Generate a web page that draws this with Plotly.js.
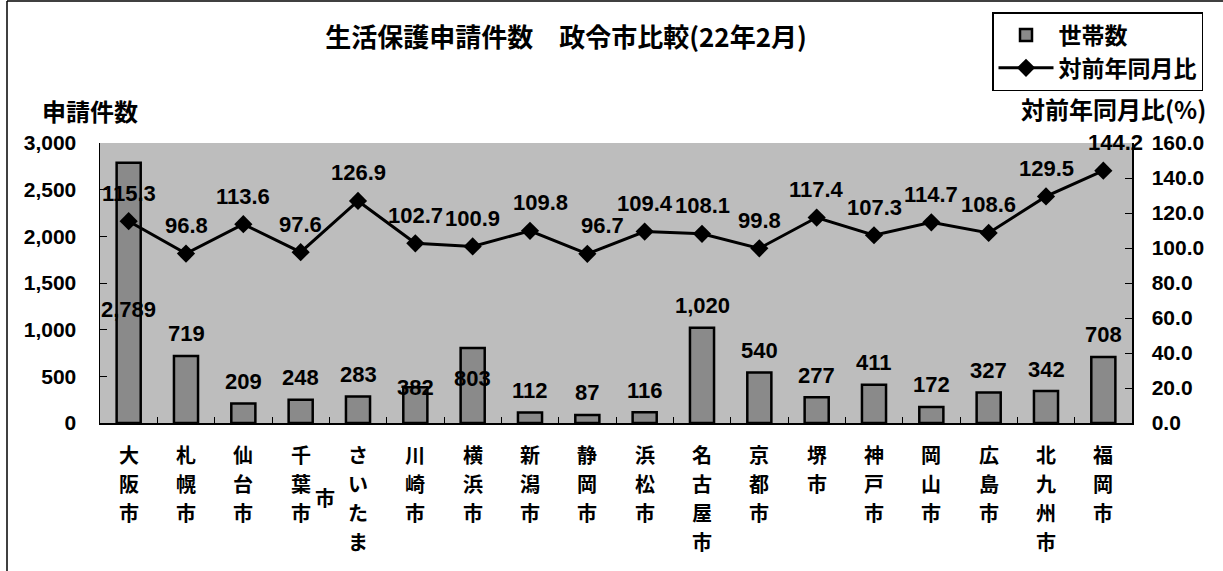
<!DOCTYPE html>
<html><head><meta charset="utf-8">
<script src="https://cdn.plot.ly/plotly-3.0.1.min.js"></script>
<style>html,body{margin:0;padding:0;background:#fff}#chart{width:1223px;height:571px}</style>
</head><body><div id="chart"></div>
<script>
// ---- data ----
const categories = ["大阪市","札幌市","仙台市","千葉市","さいたま市","川崎市","横浜市","新潟市","静岡市","浜松市","名古屋市","京都市","堺市","神戸市","岡山市","広島市","北九州市","福岡市"];
const households = [2789,719,209,248,283,382,803,112,87,116,1020,540,277,411,172,327,342,708];
const yoyRatio = [115.3,96.8,113.6,97.6,126.9,102.7,100.9,109.8,96.7,109.4,108.1,99.8,117.4,107.3,114.7,108.6,129.5,144.2];
const leftTicks = [0,500,1000,1500,2000,2500,3000];
const rightTicks = [0,20,40,60,80,100,120,140,160];
const chartTitle = "生活保護申請件数　政令市比較(22年2月)";
const leftTitle = "申請件数";
const rightTitle = "対前年同月比(%)";
const barName = "世帯数";
const lineName = "対前年同月比";

// ---- label placement tweaks (pixels) ----
const barLabelShift = {0: -147, 5: 0, 6: -30};
const lineLabelXShift = {7: 10, 8: 15, 17: 12};

const cjk = "Noto Sans CJK JP, sans-serif";
const num = "Liberation Sans, Arial, Noto Sans CJK JP, sans-serif";

const PL = 100, PT = 143, PW = 1032, PH = 280;   // plot area in px
const px2x = p => (p - PL) / PW;
const px2y = p => (PT + PH - p) / PH;

// vertical category labels, one char per row, columns of max 4 chars (extra columns go left)
const maxRows = 4, rowPitch = 29, firstRow = 31, colPitch = 33;
const annotations = [];
categories.forEach((c, i) => {
  const chars = c.split('');
  const nCols = Math.ceil(chars.length / maxRows);
  chars.forEach((ch, k) => {
    const col = Math.floor(k / maxRows);
    const row = k % maxRows;
    const inCol = Math.min(maxRows, chars.length - col * maxRows);
    // extra columns are vertically centred on the first column
    const yOff = col === 0 ? firstRow + row * rowPitch
                           : firstRow + ((Math.min(maxRows, chars.length) - 1) * rowPitch) / 2 - ((inCol - 1) * rowPitch) / 2 + row * rowPitch;
    annotations.push({
      x: c, xref: 'x', y: 0, yref: 'paper', xanchor: 'center', yanchor: 'middle',
      xshift: -col * colPitch, yshift: -yOff, showarrow: false, text: ch,
      font: {family: cjk, size: 20, color: '#000', weight: 'bold'}
    });
  });
});
households.forEach((v, i) => {
  annotations.push({
    x: categories[i], xref: 'x', y: v, yref: 'y', yanchor: 'middle', xanchor: 'center',
    yshift: (i in barLabelShift) ? barLabelShift[i] : 22, showarrow: false,
    text: v.toLocaleString('en-US'),
    font: {family: num, size: 22, color: '#000', weight: 'bold'}
  });
});
yoyRatio.forEach((v, i) => {
  annotations.push({
    x: categories[i], xref: 'x', y: v, yref: 'y2', yanchor: 'middle', xanchor: 'center',
    yshift: 28, xshift: lineLabelXShift[i] || 0, showarrow: false,
    text: v.toFixed(1),
    font: {family: num, size: 22, color: '#000', weight: 'bold'}
  });
});
annotations.push({
  x: px2x(90), xref: 'paper', y: px2y(110), yref: 'paper', xanchor: 'center', yanchor: 'middle',
  showarrow: false, text: leftTitle, font: {family: cjk, size: 24, color: '#000', weight: 'bold'}
});
annotations.push({
  x: px2x(1113), xref: 'paper', y: px2y(108), yref: 'paper', xanchor: 'center', yanchor: 'middle',
  showarrow: false, text: rightTitle, font: {family: cjk, size: 24, color: '#000', weight: 'bold'}
});

const traces = [
  {
    type: 'bar', name: barName, x: categories, y: households, yaxis: 'y',
    marker: {color: '#8a8a8a', line: {color: '#000', width: 2.5}},
    hoverinfo: 'skip'
  },
  {
    type: 'scatter', name: lineName, x: categories, y: yoyRatio, yaxis: 'y2',
    mode: 'lines+markers', cliponaxis: false,
    line: {color: '#000', width: 3},
    marker: {symbol: 'diamond', size: 14, color: '#000'},
    hoverinfo: 'skip'
  }
];

const layout = {
  width: 1223, height: 571,
  margin: {l: PL, r: 1223 - PL - PW, t: PT, b: 571 - PT - PH, pad: 0},
  paper_bgcolor: '#fff', plot_bgcolor: '#bdbdbd',
  bargap: 0.58,
  showlegend: true,
  title: {
    text: chartTitle, x: 566/1223, xref: 'container', xanchor: 'center',
    y: 1 - 38/571, yref: 'container', yanchor: 'middle',
    font: {family: cjk, size: 26, color: '#000', weight: 'bold'}
  },
  legend: {
    x: px2x(992), y: px2y(12), xanchor: 'left', yanchor: 'top',
    bgcolor: '#fff', bordercolor: '#000', borderwidth: 1.5,
    font: {family: cjk, size: 23, color: '#000', weight: 'bold'},
    traceorder: 'normal', tracegroupgap: 0, itemwidth: 55
  },
  xaxis: {
    type: 'category', range: [-0.5, categories.length - 0.5],
    showticklabels: false,
    ticks: 'inside', tickson: 'boundaries', ticklen: 6, tickcolor: '#000',
    showline: true, linecolor: '#000', linewidth: 2, showgrid: false, fixedrange: true
  },
  yaxis: {
    range: [0, 3000], tickvals: leftTicks, tickformat: ',',
    ticks: 'inside', ticklen: 7, tickcolor: '#000',
    showline: true, linecolor: '#000', linewidth: 1.5, showgrid: false, zeroline: false,
    tickfont: {family: num, size: 21, color: '#000', weight: 'bold'},
    ticklabelstandoff: 18, fixedrange: true
  },
  yaxis2: {
    overlaying: 'y', side: 'right', range: [0, 160], tickvals: rightTicks, tickformat: '.1f',
    ticks: 'inside', ticklen: 7, tickcolor: '#000',
    showline: true, linecolor: '#000', linewidth: 1.5, showgrid: false, zeroline: false,
    tickfont: {family: num, size: 21, color: '#000', weight: 'bold'},
    ticklabelstandoff: 14, fixedrange: true
  },
  annotations: annotations,
  shapes: [
    {type: 'line', xref: 'paper', yref: 'paper', x0: px2x(7), x1: px2x(7), y0: px2y(571), y1: px2y(1), line: {color: '#000', width: 1.5}},
    {type: 'line', xref: 'paper', yref: 'paper', x0: px2x(7), x1: px2x(1223), y0: px2y(1), y1: px2y(1), line: {color: '#000', width: 1.5}}
  ]
};

Plotly.newPlot('chart', traces, layout, {staticPlot: true, displayModeBar: false});
</script>
</body></html>
